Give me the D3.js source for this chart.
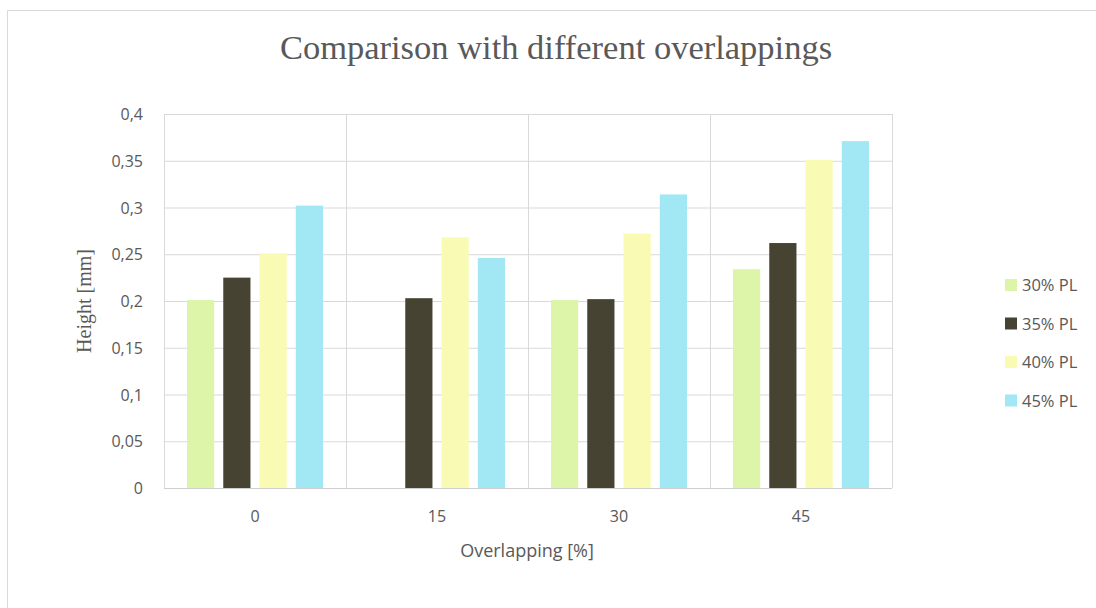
<!DOCTYPE html>
<html>
<head>
<meta charset="utf-8">
<script src="https://cdn.jsdelivr.net/npm/d3@7"></script>
<style>
  body { margin: 0; background: #fff; }
</style>
</head>
<body>
<svg width="1096" height="608"></svg>
<script>
const categories = ['0', '15', '30', '45'];
const seriesNames = ['30% PL', '35% PL', '40% PL', '45% PL'];
const pl30 = [0.201, 0, 0.201, 0.234];
const pl35 = [0.225, 0.203, 0.202, 0.262];
const pl40 = [0.251, 0.268, 0.272, 0.351];
const pl45 = [0.302, 0.246, 0.314, 0.371];
const yTicks = [0, 0.05, 0.1, 0.15, 0.2, 0.25, 0.3, 0.35, 0.4];
const colors = ['#dcf5a8', '#464332', '#f9fbb4', '#a2e8f4'];

const series = [pl30, pl35, pl40, pl45];

const svg = d3.select('svg');
const width = +svg.attr('width');
const height = +svg.attr('height');

// chart frame (runs off the right and bottom edges, like the reference)
svg.append('path')
  .attr('d', `M7.5,${height} V10.5 H${width}`)
  .attr('fill', 'none').attr('stroke', '#d9d9d9');

const plot = {left: 164, right: 892, top: 114, bottom: 488};

const xScale = d3.scaleBand()
  .domain(categories)
  .range([plot.left, plot.right]);

const xInner = d3.scaleBand()
  .domain(seriesNames)
  .range([23, xScale.bandwidth() - 23])
  .paddingInner(0.25);

const yScale = d3.scaleLinear()
  .domain([0, 0.4])
  .range([plot.bottom, plot.top]);

// horizontal gridlines
svg.selectAll('.hgrid').data(yTicks)
  .enter().append('line')
    .attr('class', 'hgrid')
    .attr('x1', plot.left).attr('x2', plot.right)
    .attr('y1', d => yScale(d) + 0.5).attr('y2', d => yScale(d) + 0.5)
    .attr('stroke', '#d9d9d9');

// vertical gridlines at category boundaries
const bounds = categories.map(c => xScale(c)).concat([plot.right]);
svg.selectAll('.vgrid').data(bounds)
  .enter().append('line')
    .attr('class', 'vgrid')
    .attr('x1', d => d + 0.5).attr('x2', d => d + 0.5)
    .attr('y1', plot.top).attr('y2', plot.bottom)
    .attr('stroke', '#d9d9d9');

// y labels
svg.selectAll('.ylab').data(yTicks)
  .enter().append('text')
    .attr('class', 'ylab')
    .attr('x', plot.left - 21)
    .attr('y', d => yScale(d) + 6)
    .attr('text-anchor', 'end')
    .attr('font-family', '"Open Sans", sans-serif')
    .attr('font-size', 16)
    .attr('fill', '#595959')
    .text(d => String(d).replace('.', ','));

// bars
const groups = svg.selectAll('.grp').data(categories)
  .enter().append('g')
    .attr('class', 'grp')
    .attr('transform', c => `translate(${xScale(c)},0)`);

groups.selectAll('rect')
  .data((c, i) => series.map((s, j) => ({name: seriesNames[j], value: s[i], color: colors[j]})))
  .enter().append('rect')
    .attr('x', d => xInner(d.name))
    .attr('width', xInner.bandwidth())
    .attr('y', d => yScale(d.value))
    .attr('height', d => plot.bottom - yScale(d.value))
    .attr('fill', d => d.color);

// x axis line
svg.append('line')
  .attr('x1', plot.left).attr('x2', plot.right)
  .attr('y1', plot.bottom + 0.5).attr('y2', plot.bottom + 0.5)
  .attr('stroke', '#cfcfcf');

// x labels
svg.selectAll('.xlab').data(categories)
  .enter().append('text')
    .attr('class', 'xlab')
    .attr('x', d => xScale(d) + xScale.bandwidth() / 2)
    .attr('y', plot.bottom + 34)
    .attr('text-anchor', 'middle')
    .attr('font-family', '"Open Sans", sans-serif')
    .attr('font-size', 16)
    .attr('fill', '#595959')
    .text(d => d);

// titles
svg.append('text')
  .attr('x', 556).attr('y', 59)
  .attr('text-anchor', 'middle')
  .attr('font-family', '"Liberation Serif", serif')
  .attr('font-size', 34.5)
  .attr('fill', '#595959')
  .text('Comparison with different overlappings');

svg.append('text')
  .attr('transform', 'translate(91,301) rotate(-90)')
  .attr('text-anchor', 'middle')
  .attr('font-family', '"Liberation Serif", serif')
  .attr('font-size', 20)
  .attr('fill', '#595959')
  .text('Height [mm]');

svg.append('text')
  .attr('x', 527).attr('y', 557)
  .attr('text-anchor', 'middle')
  .attr('font-family', '"Open Sans", sans-serif')
  .attr('font-size', 18)
  .attr('fill', '#595959')
  .text('Overlapping [%]');

// legend
const legend = svg.append('g')
  .attr('transform', 'translate(1005,279)');
const items = legend.selectAll('g').data(seriesNames)
  .enter().append('g')
    .attr('transform', (d, i) => `translate(0,${i * 38.5})`);
items.append('rect')
  .attr('width', 12).attr('height', 12)
  .attr('fill', (d, i) => colors[i]);
items.append('text')
  .attr('x', 17).attr('y', 12)
  .attr('font-family', '"Open Sans", sans-serif')
  .attr('font-size', 16.5)
  .attr('fill', '#595959')
  .text(d => d);
</script>
</body>
</html>
